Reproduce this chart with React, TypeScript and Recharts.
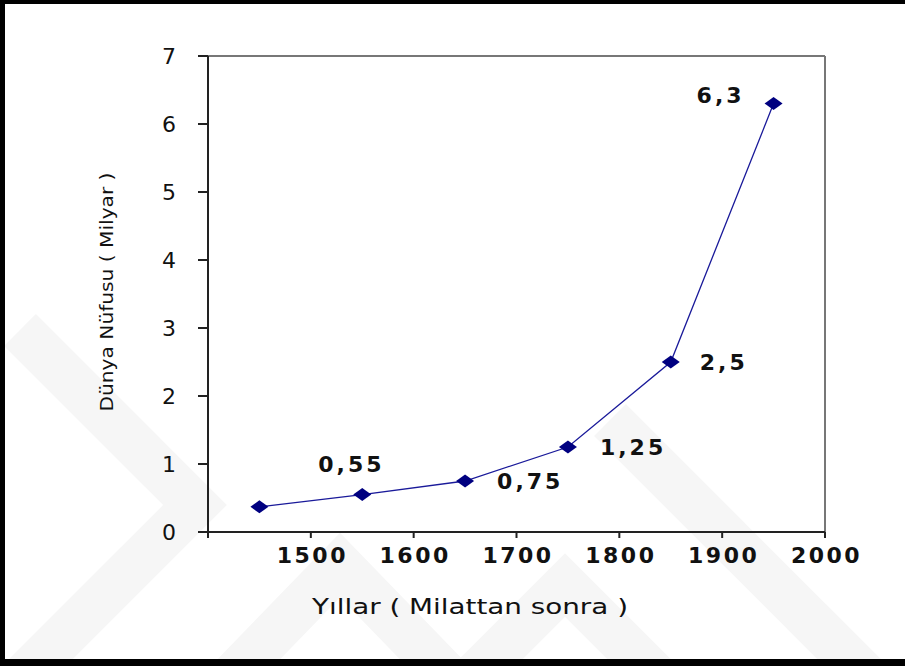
import { LineChart, Line, XAxis, YAxis, ReferenceLine, Label } from 'recharts'

// world population (billions) by year
const YEARS = [1450, 1550, 1650, 1750, 1850, 1950]
const POPULATION = [0.37, 0.55, 0.75, 1.25, 2.5, 6.3]
const X_TICKS = [1400, 1500, 1600, 1700, 1800, 1900, 2000]
const Y_TICKS = [0, 1, 2, 3, 4, 5, 6, 7]

const X_TITLE = 'Yıllar ( Milattan sonra )'
const Y_TITLE = 'Dünya Nüfusu ( Milyar )'

// where each value label sits relative to its point (null = no label)
const LABEL_OFFSETS: ([number, number] | null)[] = [
  null,
  [-44, -31],
  [32, 0],
  [32, 0],
  [29, 0],
  [-77, -9],
]

const NAVY = '#000080'
const FONT = '"DejaVu Sans", Verdana, sans-serif'

const data = YEARS.map((year, i) => ({ year, value: POPULATION[i] }))

const fmt = (v: number) => String(v).replace('.', ',')

const Diamond = (p: any) => {
  const { cx, cy, index } = p
  if (cx == null || cy == null) return <g key={`d-${index}`} />
  return (
    <polygon
      key={`d-${index}`}
      points={`${cx - 9},${cy} ${cx},${cy - 6.5} ${cx + 9},${cy} ${cx},${cy + 6.5}`}
      fill={NAVY}
    />
  )
}

const ValueLabel = (p: any) => {
  const { x, y, value, index } = p
  const off = LABEL_OFFSETS[index]
  if (!off) return null
  return (
    <text
      x={x + off[0]}
      y={y + off[1]}
      dy={8}
      textAnchor="start"
      fontFamily={FONT}
      fontWeight="bold"
      fontSize={22}
      letterSpacing={3}
      fill="#111"
    >
      {fmt(value)}
    </text>
  )
}

const XTick = (p: any) => {
  const v = p.payload.value
  if (v === 1400) return <g />
  return (
    <text
      x={p.x + 1.5}
      y={p.y}
      dy={23}
      textAnchor="middle"
      fontFamily={FONT}
      fontWeight="bold"
      fontSize={22}
      letterSpacing={2.5}
      fill="#111"
    >
      {v}
    </text>
  )
}

const YTick = (p: any) => (
  <text
    x={p.x}
    y={p.y}
    dy={8}
    textAnchor="end"
    fontFamily={FONT}
    fontSize={22}
    fill="#111"
  >
    {p.payload.value}
  </text>
)

const Watermark = () => (
  <svg
    width={905}
    height={666}
    style={{ position: 'absolute', left: 0, top: 0 }}
  >
    <g fill="none" stroke="#f6f6f6" strokeWidth={45}>
      <polyline points="20,330 195,505 20,680" />
      <polyline points="190,720 340,565 490,720" />
      <polyline points="430,720 565,585 700,720" />
      <polyline points="610,420 900,710" />
    </g>
  </svg>
)

const App = () => {
  return (
    <div
      style={{
        position: 'absolute',
        left: 0,
        top: 0,
        width: 905,
        height: 666,
        background: '#fff',
        overflow: 'hidden',
      }}
    >
      <Watermark />
      <div style={{ position: 'absolute', left: 0, top: 0 }}>
        <LineChart
          width={905}
          height={666}
          data={data}
          margin={{ top: 56, right: 80, bottom: 74, left: 148 }}
        >
          <XAxis
            dataKey="year"
            type="number"
            domain={[1400, 2000]}
            ticks={X_TICKS}
            allowDataOverflow
            height={60}
            tickSize={6}
            tickMargin={2}
            tick={<XTick />}
            axisLine={{ stroke: '#222', strokeWidth: 2 }}
            tickLine={{ stroke: '#222', strokeWidth: 2 }}
          >
            <Label
              content={() => (
                <text
                  x={470}
                  y={614}
                  textAnchor="middle"
                  fontFamily={FONT}
                  fontSize={22}
                  textLength={316}
                  lengthAdjust="spacingAndGlyphs"
                  fill="#111"
                >
                  {X_TITLE}
                </text>
              )}
            />
          </XAxis>
          <YAxis
            type="number"
            domain={[0, 7]}
            ticks={Y_TICKS}
            width={60}
            tickSize={10}
            tickMargin={22}
            tick={<YTick />}
            axisLine={{ stroke: '#222', strokeWidth: 2 }}
            tickLine={{ stroke: '#222', strokeWidth: 2 }}
          >
            <Label
              content={() => (
                <text
                  x={113}
                  y={292}
                  textAnchor="middle"
                  fontFamily={FONT}
                  fontSize={17}
                  textLength={239}
                  lengthAdjust="spacingAndGlyphs"
                  transform="rotate(-90 113 292)"
                  fill="#111"
                >
                  {Y_TITLE}
                </text>
              )}
            />
          </YAxis>
          <ReferenceLine y={7} stroke="#777" strokeWidth={2} />
          <ReferenceLine x={2000} stroke="#777" strokeWidth={2} />
          <Line
            dataKey="value"
            stroke="#1a1a9a"
            strokeWidth={1.3}
            dot={Diamond}
            activeDot={false}
            label={ValueLabel}
            isAnimationActive={false}
          />
        </LineChart>
      </div>
      <div
        style={{
          position: 'absolute',
          left: 0,
          top: 0,
          width: 905,
          height: 666,
          boxSizing: 'border-box',
          borderTop: '4px solid #000',
          borderLeft: '5px solid #000',
          borderBottom: '7px solid #000',
          pointerEvents: 'none',
        }}
      />
    </div>
  )
}

export default App
